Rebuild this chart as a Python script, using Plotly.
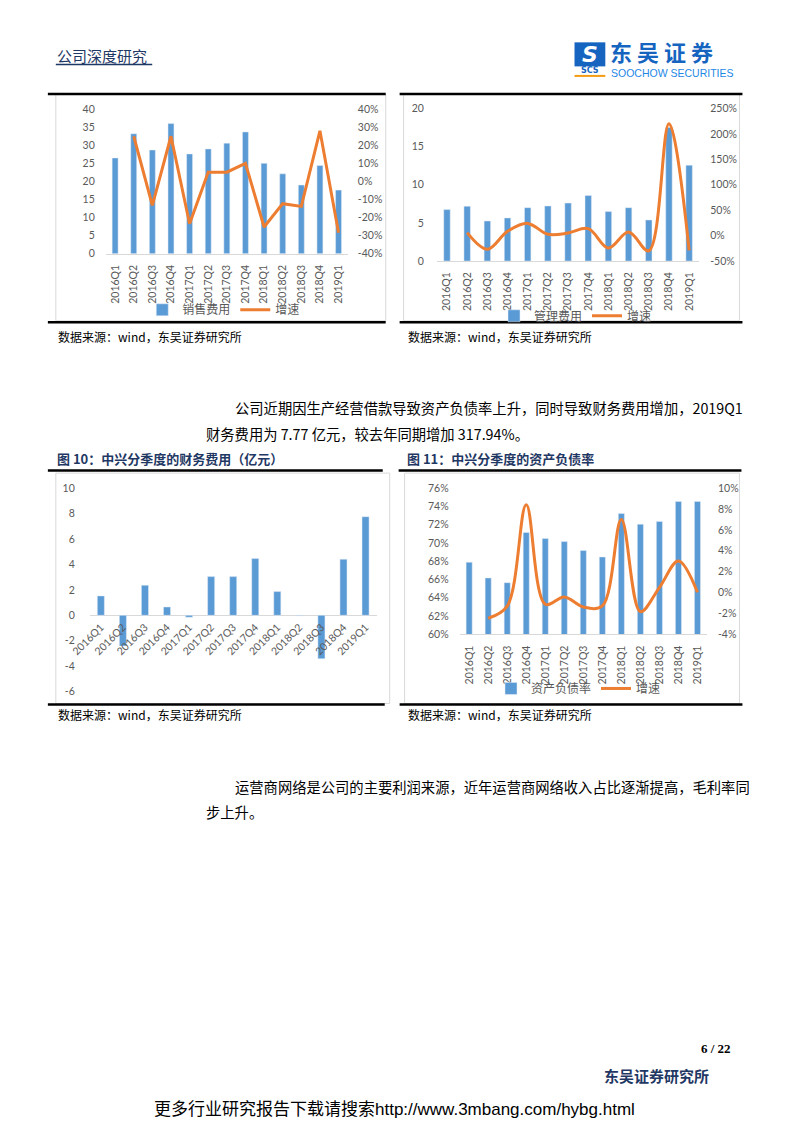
import plotly.graph_objects as go

W, H = 793, 1122

# ---------------- data ----------------
quarters = ["2016Q1", "2016Q2", "2016Q3", "2016Q4", "2017Q1", "2017Q2", "2017Q3",
            "2017Q4", "2018Q1", "2018Q2", "2018Q3", "2018Q4", "2019Q1"]

sales_expense = [26.5, 33.2, 28.7, 36.0, 27.6, 29.0, 30.6, 33.7, 25.0, 22.1, 19.0, 24.4, 17.6]
sales_growth = [None, 0.25, -0.132, 0.25, -0.234, 0.051, 0.051, 0.10, -0.252, -0.123, -0.138, 0.28, -0.284]

admin_expense = [6.74, 7.18, 5.25, 5.65, 7.0, 7.22, 7.6, 8.58, 6.48, 7.0, 5.38, 17.5, 12.56]
admin_growth = [None, 0.058, -0.27, 0.084, 0.24, 0.025, 0.05, 0.137, -0.244, 0.07, -0.298, 2.20, -0.29]

finance_expense = [1.53, -2.42, 2.37, 0.66, -0.15, 3.05, 3.05, 4.47, 1.87, -0.04, -3.42, 4.42, 7.77]

debt_ratio = [0.679, 0.6617, 0.6566, 0.7114, 0.7048, 0.7015, 0.6917, 0.6847, 0.7322, 0.7205, 0.7235, 0.7454, 0.7454]
debt_growth = [None, -0.0246, -0.013, 0.084, -0.0112, -0.0042, -0.0138, -0.0128, 0.070, -0.0182, 0.0048, 0.0303, 0.0003]

# tick labels
c1_left_ticks = [0, 5, 10, 15, 20, 25, 30, 35, 40]
c1_right_ticks = [-0.4, -0.3, -0.2, -0.1, 0, 0.1, 0.2, 0.3, 0.4]
c1_right_text = ["-40%", "-30%", "-20%", "-10%", "0%", "10%", "20%", "30%", "40%"]
c2_left_ticks = [0, 5, 10, 15, 20]
c2_right_ticks = [-0.5, 0, 0.5, 1.0, 1.5, 2.0, 2.5]
c2_right_text = ["-50%", "0%", "50%", "100%", "150%", "200%", "250%"]
c3_left_ticks = [-6, -4, -2, 0, 2, 4, 6, 8, 10]
c3_left_text = ["-6", "-4", "-2", "0", "2", "4", "6", "8", "10"]
c4_left_ticks = [0.60, 0.62, 0.64, 0.66, 0.68, 0.70, 0.72, 0.74, 0.76]
c4_left_text = ["60%", "62%", "64%", "66%", "68%", "70%", "72%", "74%", "76%"]
c4_right_ticks = [-0.04, -0.02, 0, 0.02, 0.04, 0.06, 0.08, 0.10]
c4_right_text = ["-4%", "-2%", "0%", "2%", "4%", "6%", "8%", "10%"]

BLUE = "#5B9BD5"
ORANGE = "#ED7D31"
GRAY = "#595959"
AXL = "#D9D9D9"
NAVY = "#1F3864"
TICKFONT = dict(family="Lato, Noto Sans CJK SC, sans-serif", size=10.5, color=GRAY)
CJK = "Noto Sans CJK SC, sans-serif"

# empirical correction between page pixels and the photographed picture
AX, BX, AY, BY = 29.0, 0.981, 15.7, 0.9876


def px(x):
    return ((x - AX) / BX) / W


def py(y):
    return 1 - ((y - AY) / BY) / H


fig = go.Figure()

# ---------------- traces ----------------
fig.add_trace(go.Bar(x=quarters, y=sales_expense, name="销售费用", marker_color=BLUE,
                     xaxis="x", yaxis="y", legend="legend"))
fig.add_trace(go.Scatter(x=quarters, y=sales_growth, name="增速", mode="lines",
                         line=dict(color=ORANGE, width=3), xaxis="x", yaxis="y2",
                         legend="legend"))

fig.add_trace(go.Bar(x=quarters, y=admin_expense, name="管理费用", marker_color=BLUE,
                     xaxis="x2", yaxis="y3", legend="legend2"))
fig.add_trace(go.Scatter(x=quarters, y=admin_growth, name="增速", mode="lines",
                         line=dict(color=ORANGE, width=3, shape="spline", smoothing=1),
                         xaxis="x2", yaxis="y4", legend="legend2"))

fig.add_trace(go.Bar(x=quarters, y=finance_expense, name="财务费用", marker_color=BLUE,
                     xaxis="x3", yaxis="y5", showlegend=False))

fig.add_trace(go.Bar(x=quarters, y=debt_ratio, name="资产负债率", marker_color=BLUE,
                     xaxis="x4", yaxis="y6", legend="legend3"))
fig.add_trace(go.Scatter(x=quarters, y=debt_growth, name="增速", mode="lines",
                         line=dict(color=ORANGE, width=3, shape="spline", smoothing=1),
                         xaxis="x4", yaxis="y7", legend="legend3"))


# ---------------- axes ----------------
def xcat(domain, anchor, standoff=6, angle=-90, line=True, **kw):
    d = dict(domain=domain, anchor=anchor, type="category", range=[-0.5, 12.5],
             tickangle=angle, tickfont=TICKFONT, showgrid=False, zeroline=False,
             showline=line, linecolor=AXL, linewidth=1, ticks="",
             ticklabelstandoff=standoff, fixedrange=True)
    d.update(kw)
    return d


def ylin(domain, anchor, rng, vals, text=None, side="left", overlay=None, standoff=10, **kw):
    d = dict(domain=domain, anchor=anchor, range=rng, tickvals=vals, side=side,
             tickfont=TICKFONT, showgrid=False, zeroline=False, showline=False,
             ticks="", ticklabelstandoff=standoff, fixedrange=True)
    if text is not None:
        d["ticktext"] = text
    if overlay:
        d["overlaying"] = overlay
    d.update(kw)
    return d


layout = dict(
    width=W, height=H, margin=dict(l=0, r=0, t=0, b=0),
    paper_bgcolor="white", plot_bgcolor="rgba(0,0,0,0)",
    barmode="group", showlegend=True, bargap=0.68,
    font=dict(family=CJK, color="black"),
)

# chart 1
layout["xaxis"] = xcat([px(107.3), px(350.9)], "y", standoff=6)
layout["yaxis"] = ylin([py(255), py(110.7)], "x", [0, 40], c1_left_ticks, standoff=10)
layout["yaxis2"] = ylin([py(255), py(110.7)], "x", [-0.4, 0.4], c1_right_ticks, c1_right_text,
                        side="right", overlay="y", standoff=9)
# chart 2
layout["xaxis2"] = xcat([px(440.5), px(704.5)], "y3", standoff=6)
layout["yaxis3"] = ylin([py(262.3), py(110)], "x2", [0, 20], c2_left_ticks, standoff=12)
layout["yaxis4"] = ylin([py(262.3), py(110)], "x2", [-0.5, 2.5], c2_right_ticks, c2_right_text,
                        side="right", overlay="y3", standoff=10)
# chart 3
layout["xaxis3"] = xcat([px(91.2), px(379.8)], "free", standoff=3, angle=-45, line=False,
                        position=py(616))
layout["yaxis5"] = ylin([py(692), py(489.3)], "x3", [-6, 10], c3_left_ticks, c3_left_text,
                        standoff=14, zeroline=True, zerolinecolor=AXL, zerolinewidth=1)
# chart 4
layout["xaxis4"] = xcat([px(463.4), px(712.3)], "y6", standoff=6)
layout["yaxis6"] = ylin([py(635), py(489)], "x4", [0.60, 0.76], c4_left_ticks, c4_left_text,
                        standoff=10)
layout["yaxis7"] = ylin([py(635), py(489)], "x4", [-0.04, 0.10], c4_right_ticks, c4_right_text,
                        side="right", overlay="y6", standoff=10)

legfont = dict(family=CJK, size=12, color=GRAY)
for name, cx, cy in [("legend", 226, 311), ("legend2", 580, 317), ("legend3", 583, 689)]:
    layout[name] = dict(orientation="h", x=px(cx), y=py(cy), xanchor="center", yanchor="middle",
                        font=legfont, bgcolor="rgba(0,0,0,0)", itemwidth=30,
                        traceorder="normal", tracegroupgap=0)

fig.update_layout(**layout)

# ---------------- page decoration ----------------
shapes = []


def rect(x0, y0, x1, y1, line="#D9D9D9", fill=None, width=1, layer="below"):
    shapes.append(dict(type="rect", xref="paper", yref="paper", x0=px(x0), x1=px(x1),
                       y0=py(y1), y1=py(y0), line=dict(color=line, width=width),
                       fillcolor=fill if fill else "rgba(0,0,0,0)", layer=layer))


def hline(x0, x1, y, color="black", width=2.5):
    shapes.append(dict(type="line", xref="paper", yref="paper", x0=px(x0), x1=px(x1),
                       y0=py(y), y1=py(y), line=dict(color=color, width=width)))


# chart frames
rect(57, 96, 389, 322)
rect(407, 96, 745, 322)
rect(57, 474, 393, 704)
rect(408, 474, 745, 704)
# heavy rules
hline(49, 389, 95.5)
hline(403, 748, 95.5)
hline(49, 389, 323.5)
hline(403, 748, 323.5)
hline(49, 386, 471.5)
hline(402, 747, 471.5)
hline(49, 388, 705)
hline(403, 748, 705)
# header underline
hline(57, 154, 66, color=NAVY, width=1.5)
# logo
rect(579, 44, 610, 68, line="rgba(0,0,0,0)", fill="#1565C0", width=0, layer="above")
hline(579, 610, 77.5, color="#F39C12", width=2)

fig.update_layout(shapes=shapes)

ann = []


def text(x, y, s, size=12, color="black", anchor="left", bold=False, family=CJK, yanchor="middle"):
    if bold:
        s = "<b>" + s + "</b>"
    ann.append(dict(x=px(x), y=py(y), xref="paper", yref="paper", text=s, showarrow=False,
                    xanchor=anchor, yanchor=yanchor, borderpad=0,
                    font=dict(size=size, color=color, family=family)))


text(57, 57, "公司深度研究", size=15, color=NAVY)
text(594.5, 56, "<i>S</i>", size=22, color="white", anchor="center", bold=True,
     family="DejaVu Sans, sans-serif")
text(594.5, 72.5, "SCS", size=8, color="#1565C0", anchor="center", bold=True,
     family="DejaVu Sans, sans-serif")
text(614, 52.5, "东 吴 证 券", size=22, color="#1565C0", bold=True)
text(615, 75, "SOOCHOW SECURITIES", size=10.5, color="#1E88E5",
     family="Liberation Sans, sans-serif")

text(58, 338, "数据来源：wind，东吴证券研究所", size=12)
text(410, 338, "数据来源：wind，东吴证券研究所", size=12)

text(236, 409, "公司近期因生产经营借款导致资产负债率上升，同时导致财务费用增加，2019Q1", size=14.3)
text(207, 434, "财务费用为 7.77 亿元，较去年同期增加 317.94%。", size=14.3)

text(57, 459, "图 10：中兴分季度的财务费用（亿元）", size=13, color=NAVY, bold=True)
text(409, 459, "图 11：中兴分季度的资产负债率", size=13, color=NAVY, bold=True)

text(58, 715, "数据来源：wind，东吴证券研究所", size=12)
text(410, 715, "数据来源：wind，东吴证券研究所", size=12)

text(236, 787, "运营商网络是公司的主要利润来源，近年运营商网络收入占比逐渐提高，毛利率同", size=14.3)
text(207, 812, "步上升。", size=14.3)

text(737, 1048, "6 / 22", size=13, anchor="right", bold=True,
     family="Liberation Serif, DejaVu Serif, serif")
text(715, 1075, "东吴证券研究所", size=15, anchor="right", color=NAVY, bold=True)
text(398, 1109, "更多行业研究报告下载请搜索http://www.3mbang.com/hybg.html", size=17,
     anchor="center", family="Liberation Sans, Noto Sans CJK SC, sans-serif")

fig.update_layout(annotations=ann)

fig.write_html("out.html")
